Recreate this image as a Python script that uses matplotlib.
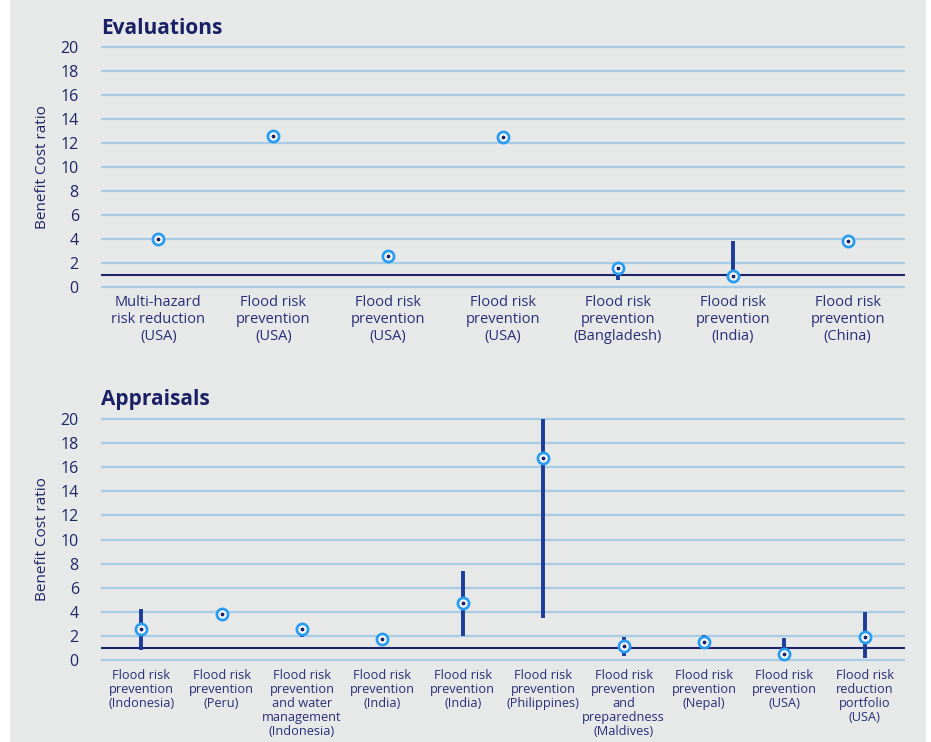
import numpy as np
import matplotlib
matplotlib.use("Agg")
import matplotlib.pyplot as plt
from matplotlib.patches import Rectangle

plt.rcParams["font.family"] = ["Open Sans", "DejaVu Sans"]

nan = np.nan

# Evaluations (ex-post)
eval_labels = [
    "Multi-hazard\nrisk reduction\n(USA)",
    "Flood risk\nprevention\n(USA)",
    "Flood risk\nprevention\n(USA)",
    "Flood risk\nprevention\n(USA)",
    "Flood risk\nprevention\n(Bangladesh)",
    "Flood risk\nprevention\n(India)",
    "Flood risk\nprevention\n(China)",
]
eval_bcr = [3.95, 12.6, 2.55, 12.5, 1.6, 0.9, 3.8]
eval_low = [nan, nan, nan, nan, 0.55, 0.9, nan]
eval_high = [nan, nan, nan, nan, 1.6, 3.85, nan]

# Appraisals (ex-ante)
appr_labels = [
    "Flood risk\nprevention\n(Indonesia)",
    "Flood risk\nprevention\n(Peru)",
    "Flood risk\nprevention\nand water\nmanagement\n(Indonesia)",
    "Flood risk\nprevention\n(India)",
    "Flood risk\nprevention\n(India)",
    "Flood risk\nprevention\n(Philippines)",
    "Flood risk\nprevention\nand\npreparedness\n(Maldives)",
    "Flood risk\nprevention\n(Nepal)",
    "Flood risk\nprevention\n(USA)",
    "Flood risk\nreduction\nportfolio\n(USA)",
]
appr_bcr = [2.6, 3.8, 2.6, 1.75, 4.7, 16.8, 1.2, 1.5, 0.5, 1.95]
appr_low = [0.85, nan, 1.9, nan, 2.0, 3.45, 0.35, 1.5, 0.0, 0.15]
appr_high = [4.2, nan, 2.6, nan, 7.35, 20.0, 1.95, 2.05, 1.85, 4.0]

NAVY = "#1F2466"
TEXT = "#2A2D78"
RING = "#2A9DF0"
WHISK = "#1C3C99"
GRID = "#A8CCE6"
BG = "#E6E9E8"

W, H = 931, 742
fig = plt.figure(figsize=(W / 100, H / 100), dpi=100, facecolor="white")
fig.patches.append(Rectangle((10 / W, 0), 916 / W, 1, transform=fig.transFigure,
                             facecolor=BG, edgecolor="none", zorder=-10))


def draw_panel(rect, title, title_y, labels, bcr, low, high, label_size, linesp):
    ax = fig.add_axes(rect)
    ax.set_facecolor("none")
    n = len(labels)
    x = np.arange(n)
    ax.set_xlim(-0.5, n - 0.5)
    ax.set_ylim(-0.5, 20.5)
    ax.set_yticks(range(0, 21, 2))
    ax.yaxis.grid(True, color=GRID, lw=1.6)
    ax.set_axisbelow(True)
    for s in ax.spines.values():
        s.set_visible(False)
    ax.tick_params(axis="both", length=0)
    ax.tick_params(axis="y", pad=16, labelsize=11.5, labelcolor=NAVY)
    ax.set_xticks(x)
    ax.set_xticklabels(labels, fontsize=label_size, color=TEXT, linespacing=linesp, va="top")
    ax.tick_params(axis="x", pad=2)
    ax.axhline(1, color=NAVY, lw=1.5, zorder=2)

    ax.vlines(x, low, high, color=WHISK, lw=2.8, zorder=3)
    ax.plot(x, bcr, "o", ms=8, mfc="white", mec=RING, mew=2.0, zorder=4, clip_on=False)
    ax.plot(x, bcr, "o", ms=1.8, color=NAVY, zorder=5, clip_on=False)

    bottom, height = rect[1], rect[3]
    fig.text(42 / W, bottom + height / 2, "Benefit Cost ratio", rotation=90,
             ha="center", va="center", fontsize=11, color=NAVY)
    fig.text(101 / W, 1 - title_y / H, title, fontsize=15, fontweight="bold",
             color="#1A1F66", ha="left", va="baseline")
    return ax


# pixel geometry: y=20 / y=0 gridlines
left, width = 101 / W, 804 / W
top_y20, top_y0 = 46.7, 286.7
u = (top_y0 - top_y20) / 20
draw_panel([left, 1 - (top_y0 + 0.5 * u) / H, width, 21 * u / H],
           "Evaluations", 34, eval_labels, eval_bcr, eval_low, eval_high, 10.5, 1.15)

bot_y20, bot_y0 = 419, 660
u = (bot_y0 - bot_y20) / 20
draw_panel([left, 1 - (bot_y0 + 0.5 * u) / H, width, 21 * u / H],
           "Appraisals", 405.5, appr_labels, appr_bcr, appr_low, appr_high, 9.2, 1.1)

fig.savefig("out.png", dpi=100, facecolor="white")
